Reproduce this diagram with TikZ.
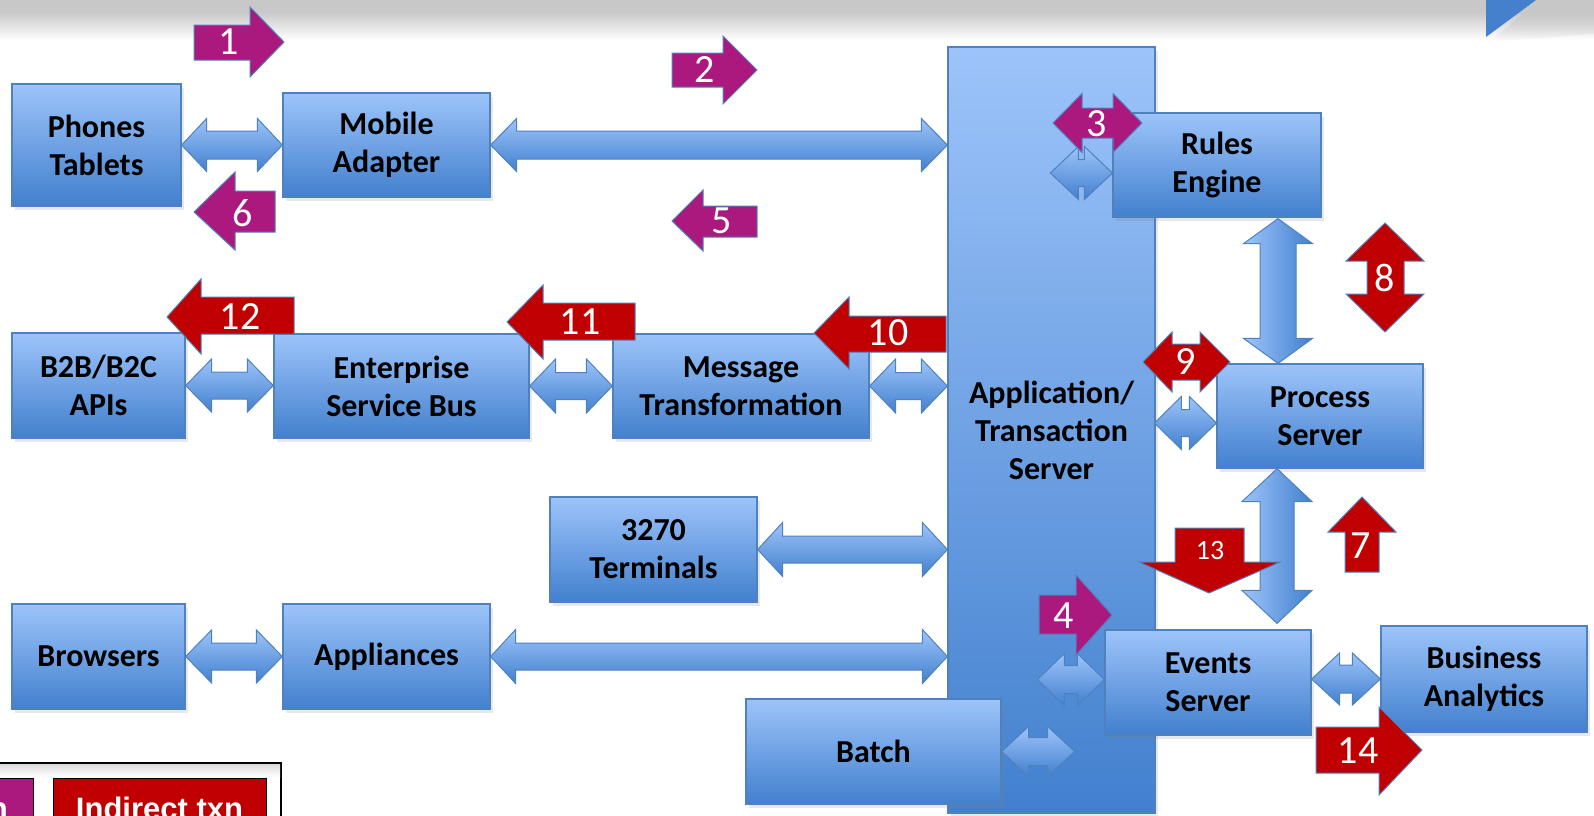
\documentclass[tikz,border=0pt]{standalone}
\usepackage{fontspec}
\setmainfont{Carlito}
\newfontfamily\legendfont{Liberation Sans}
\usetikzlibrary{calc,shadows,fadings}

\definecolor{boxtop}{RGB}{157,196,250}
\definecolor{boxbot}{RGB}{66,128,206}
\definecolor{boxline}{RGB}{79,129,189}
\definecolor{purp}{RGB}{172,25,126}
\definecolor{redarr}{RGB}{192,0,0}
\definecolor{bandgray}{RGB}{200,200,200}
\definecolor{triblue}{RGB}{68,128,204}

\tikzset{
  box/.style={draw=boxline, line width=1.2pt, top color=boxtop, bottom color=boxbot,
    inner sep=0pt, align=center, font=\fontsize{32}{38}\selectfont\bfseries,
    drop shadow={shadow xshift=3pt, shadow yshift=-4pt, opacity=0.18}},
  bluearrow/.style={draw=boxline, line width=1pt, top color=boxtop, bottom color=boxbot},
  bluevarrow/.style={draw=boxline, line width=1pt, left color=boxtop, right color=boxbot},
  purparrow/.style={fill=purp, draw=boxline, line width=1pt},
  redarrow/.style={fill=redarr, draw=boxline, line width=1pt},
  numlabel/.style={text=white, font=\fontsize{40}{40}\selectfont, inner sep=0pt},
}

% horizontal double block arrow: #1 left point, #2 right point, #3 shaft half, #4 head half, #5 head length
\newcommand\harr[5]{%
  \path[bluearrow] let \p1=#1, \p2=#2 in
    (\x1,\y1) -- (\x1+#5,\y1+#4) -- (\x1+#5,\y1+#3) -- (\x2-#5,\y1+#3) -- (\x2-#5,\y1+#4)
    -- (\x2,\y1) -- (\x2-#5,\y1-#4) -- (\x2-#5,\y1-#3) -- (\x1+#5,\y1-#3) -- (\x1+#5,\y1-#4) -- cycle;}
% vertical double block arrow: #1 top point, #2 bottom point
\newcommand\varr[5]{%
  \path[bluevarrow] let \p1=#1, \p2=#2 in
    (\x1,\y1) -- (\x1+#4,\y1-#5) -- (\x1+#3,\y1-#5) -- (\x1+#3,\y2+#5) -- (\x1+#4,\y2+#5)
    -- (\x1,\y2) -- (\x1-#4,\y2+#5) -- (\x1-#3,\y2+#5) -- (\x1-#3,\y1-#5) -- (\x1-#4,\y1-#5) -- cycle;}

\begin{document}
\begin{tikzpicture}[x=1pt,y=-1pt]
\useasboundingbox (0,0) rectangle (1594,815);
\clip (0,0) rectangle (1594,815);

% top band
\fill[bandgray] (0,0) rectangle (1594,12);
\shade[top color=bandgray, bottom color=white] (0,12) rectangle (1594,40);
\fill[black!22, path fading=south] (1489,42) -- (1540,0) -- (1594,0) -- (1594,34) -- cycle;
\fill[triblue] (1486,0) -- (1536,0) -- (1486,37) -- cycle;

% boxes
\node[box, minimum width=207, minimum height=766] (app) at (1051.5,430) {Application/\\Transaction\\Server};
\node[box, minimum width=169, minimum height=122] (phones) at (96.5,145) {Phones\\Tablets};
\node[box, minimum width=207, minimum height=104] (mobile) at (386.5,145) {Mobile\\Adapter};
\node[box, minimum width=208, minimum height=104] (rules) at (1217,165) {Rules\\Engine};
\node[box, minimum width=206, minimum height=104] (proc) at (1320,416) {Process\\Server};
\node[box, minimum width=173, minimum height=105] (b2b) at (98.5,385.5) {B2B/B2C\\APIs};
\node[box, minimum width=255, minimum height=104] (esb) at (401.5,386) {Enterprise\\Service Bus};
\node[box, minimum width=256, minimum height=104] (mt) at (741,386) {Message\\Transformation};
\node[box, minimum width=207, minimum height=105] (term) at (653.5,549.5) {3270\\Terminals};
\node[box, minimum width=173, minimum height=105] (brow) at (98.5,656.5) {Browsers};
\node[box, minimum width=207, minimum height=105] (appl) at (386.5,656.5) {Appliances};
\node[box, minimum width=255, minimum height=105] (batch) at (873.5,751.5) {Batch};
\node[box, minimum width=206, minimum height=105] (ev) at (1208,682.5) {Events\\Server};
\node[box, minimum width=206, minimum height=106] (ba) at (1484,679) {Business\\Analytics};

% helper coordinates
\coordinate (ar) at ($(rules.west)+(-62,8)$);
\coordinate (ap) at ($(proc.west)+(-62,7)$);
\coordinate (ae) at ($(ev.west)+(-67,-3)$);
\coordinate (be) at ($(batch.east)+(73,0)$);
\coordinate (rp) at ($(rules.south)+(61,1)$);
\coordinate (pe) at ($(proc.south)+(-43,0)$);
\coordinate (pe2) at ($(pe |- ev.north)+(0,-6)$);

% blue connectors
\harr{(phones.east)}{(mobile.west)}{14}{26.5}{25}
\harr{(mobile.east)}{(mobile.east -| app.west)}{14}{26.5}{26}
\harr{(b2b.east)}{(esb.west)}{13.5}{26.5}{26}
\harr{(esb.east)}{(mt.west)}{13.5}{27}{26}
\harr{(mt.east)}{(mt.east -| app.west)}{13.5}{27}{26}
\harr{(term.east)}{(term.east -| app.west)}{13.5}{27}{25}
\harr{(brow.east)}{(appl.west)}{13.5}{26.5}{26}
\harr{(appl.east)}{(appl.east -| app.west)}{13.5}{27}{25}
\harr{(ar)}{(ar -| rules.west)}{13.5}{26.5}{28}
\harr{(ap)}{(ap -| proc.west)}{13.5}{26.5}{27}
\harr{(ae)}{(ae -| ev.west)}{14}{26}{27}
\harr{(ba.west -| ev.east)}{(ba.west)}{14}{26}{28}
\harr{(batch.east)}{(be)}{14}{25}{27}
\varr{(rp)}{(rp |- proc.north)}{18}{34.5}{25}
\varr{(pe)}{(pe2)}{17}{35}{33}

% numbered arrows (direct: purple)
\path[purparrow] (194,25) -- (250,25) -- (250,7) -- (284,42) -- (250,77) -- (250,60) -- (194,60) -- cycle;
\node[numlabel] (n1) at (229,42) {1};
\path[purparrow] (672,53) -- (723,53) -- (723,36) -- (757,70) -- (723,104) -- (723,87) -- (672,87) -- cycle;
\node[numlabel] (n2) at (705,70) {2};
\path[purparrow] (1053,123) -- (1082,93.5) -- (1082,108) -- (1113,108) -- (1113,93.5) -- (1142,123)
  -- (1113,152.5) -- (1113,138) -- (1082,138) -- (1082,152.5) -- cycle;
\node[numlabel] (n3) at (1097,124) {3};
\path[purparrow] (1039,595) -- (1076,595) -- (1076,575) -- (1112,615) -- (1076,655) -- (1076,634) -- (1039,634) -- cycle;
\node[numlabel] (n4) at (1064,616) {4};
\path[purparrow] (672,221) -- (703,190) -- (703,206) -- (757,206) -- (757,237) -- (703,237) -- (703,251) -- cycle;
\node[numlabel] (n5) at (722,221) {5};
\path[purparrow] (194,212) -- (235,172) -- (235,191) -- (275,191) -- (275,232) -- (235,232) -- (235,250) -- cycle;
\node[numlabel] (n6) at (243,213) {6};

% numbered arrows (indirect: red)
\path[redarrow] (1362,497) -- (1396,532) -- (1379,532) -- (1379,572) -- (1345,572) -- (1345,532) -- (1328,532) -- cycle;
\node[numlabel] (n7) at (1361,546) {7};
\path[redarrow] (1385,223) -- (1424,261) -- (1404,261) -- (1404,294) -- (1424,294) -- (1385,332)
  -- (1346,294) -- (1367,294) -- (1367,261) -- (1346,261) -- cycle;
\node[numlabel] (n8) at (1385,278) {8};
\path[redarrow] (1143,362) -- (1172,332) -- (1172,344) -- (1200,344) -- (1200,332) -- (1230,362)
  -- (1200,392) -- (1200,380) -- (1172,380) -- (1172,392) -- cycle;
\node[numlabel] (n9) at (1186,362) {9};
\path[redarrow] (814,333) -- (849,297) -- (849,316) -- (946,316) -- (946,352) -- (849,352) -- (849,369) -- cycle;
\node[numlabel] (n10) at (888,333) {10};
\path[redarrow] (507,322) -- (543,285) -- (543,303) -- (635,303) -- (635,340) -- (543,340) -- (543,359) -- cycle;
\node[numlabel] (n11) at (580,322) {11};
\path[redarrow] (167,317) -- (201,279) -- (201,297) -- (294,297) -- (294,334) -- (201,334) -- (201,354) -- cycle;
\node[numlabel] (n12) at (240,317) {12};
\path[redarrow] (1175,528) -- (1244,528) -- (1244,562) -- (1280,562) -- (1209,593) -- (1139,562) -- (1175,562) -- cycle;
\node[numlabel, font=\fontsize{28}{28}\selectfont] (n13) at (1210,550) {13};
\path[redarrow] (1316,727) -- (1379,727) -- (1379,707) -- (1422,750) -- (1379,795) -- (1379,773) -- (1316,773) -- cycle;
\node[numlabel] (n14) at (1358,751) {14};

% legend
\draw[line width=1.5pt, fill=white] (-5,763) rectangle (281,840);
\shade[top color=black!14, bottom color=white] (-4,764) rectangle (280,777);
\draw[fill=purp, line width=1pt] (-170,778) rectangle (33,840);
\draw[fill=redarr, line width=1pt] (53,778) rectangle (266,840);
\node[anchor=base east, inner sep=0pt, text=white, font=\legendfont\fontsize{31}{31}\selectfont\bfseries] (ldir) at (8,819) {Direct txn};
\node[anchor=base, inner sep=0pt, text=white, font=\legendfont\fontsize{31}{31}\selectfont\bfseries] (lind) at (159.5,819) {Indirect txn};
\end{tikzpicture}
\end{document}
